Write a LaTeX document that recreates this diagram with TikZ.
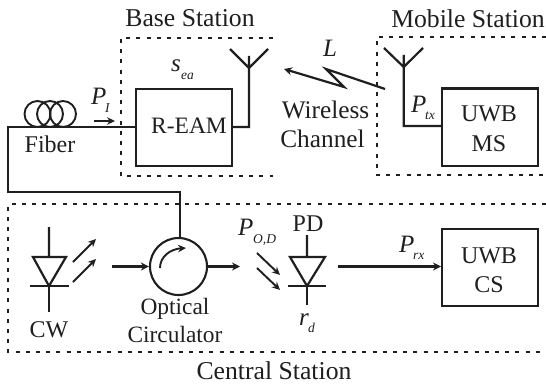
\documentclass[tikz,border=0pt]{standalone}
\usepackage{fontspec}
\setmainfont{Liberation Serif}
\usetikzlibrary{arrows.meta}
\tikzset{
  wire/.style={line width=2.2pt,draw=black!88,line cap=butt,line join=miter},
  thin wire/.style={line width=1.9pt,draw=black!88},
  arr/.style={wire,-{Stealth[length=8pt,width=8pt]}},
  smallarr/.style={thin wire,-{Stealth[length=8pt,width=7.5pt]}},
  dots/.style={line width=2pt,draw=black!88,dash pattern=on 4pt off 6.2pt},
  blockbox/.style={draw=black!88,line width=2.2pt,minimum width=96pt,minimum height=77pt,inner sep=0pt,anchor=north west},
  lab/.style={anchor=base,inner sep=0pt,text=black!88,font=\fontsize{24}{24}\selectfont},
  title/.style={lab,font=\fontsize{25.7}{26}\selectfont},
  widelab/.style={lab,font=\fontsize{25.3}{26}\selectfont},
  varlab/.style={anchor=base west,inner sep=0pt,text=black!88,font=\fontsize{25}{25}\selectfont\itshape},
  sublab/.style={anchor=base west,inner sep=0pt,text=black!88,font=\fontsize{13.5}{14}\selectfont\itshape},
}
\begin{document}
\begin{tikzpicture}[x=1pt,y=-1pt]
\useasboundingbox (0,0) rectangle (546,385);
% dotted station boxes
\draw[dots] (273,38) -- (121,38) -- (121,176) -- (273,176);
\draw[dots] (546,37) -- (377,37) -- (377,175) -- (546,175);
\draw[dots] (546,204) -- (8,204) -- (8,352) -- (546,352);
% blocks
\node[blockbox] (ream) at (135,88) {};
\node[lab,font=\fontsize{23.5}{24}\selectfont] (reamt) at (189,134) {R-EAM};
\node[blockbox] (ms) at (441,87.5) {};
\node[lab] (mst1) at (489,122) {UWB};
\node[lab] (mst2) at (489,151) {MS};
\node[blockbox] (cs) at (441,228) {};
\node[lab] (cst1) at (489,263) {UWB};
\node[lab] (cst2) at (489,292) {CS};
% titles
\node[title] (tbs) at (190,27) {Base Station};
\node[title] (tms) at (468,28) {Mobile Station};
\node[title] (tcs) at (274,379) {Central Station};
\node[lab] (tfib) at (50,153) {Fiber};
\node[widelab] (twl) at (325.5,119) {Wireless};
\node[widelab] (tch) at (322.5,148) {Channel};
\node[lab,font=\fontsize{23.4}{24}\selectfont] (topt) at (175,314) {Optical};
\node[lab,font=\fontsize{23.4}{24}\selectfont] (tcir) at (175,342) {Circulator};
\node[lab] (tcw) at (49,337) {CW};
\node[lab] (tpd) at (308,231) {PD};
% variables
\node[varlab] (vl) at (323,57) {L};
\node[varlab] (vs) at (171,72) {s};
\node[sublab] (vsb) at (181,80) {ea};
\node[varlab] (vpi) at (91,105) {P};
\node[sublab] (vpib) at (105,113) {I};
\node[varlab] (vptx) at (411,113) {P};
\node[sublab] (vptxb) at (425,120) {tx};
\node[varlab] (vpod) at (238,235) {P};
\node[sublab] (vpodb) at (253,243) {O,D};
\node[varlab] (vprx) at (399,252) {P};
\node[sublab] (vprxb) at (413,259) {rx};
\node[varlab] (vr) at (299,325) {r};
\node[sublab] (vrb) at (308,332) {d};
% fiber path and coil
\coordinate (fibL) at (8,127);
\coordinate (fibB) at (8,192);
\coordinate (circT) at (180,192);
\node[draw=black!88,line width=2.1pt,circle,minimum size=57pt,inner sep=0pt] (circ) at (178.5,266.5) {};
\draw[wire] (ream.west|-fibL) -- (fibL) -- (fibB) -- (circT) -- (180,238);
\foreach \cx/\nm in {37.5/c1,50/c2,63/c3}
  \node[draw=black!88,line width=1.9pt,circle,minimum size=26pt,inner sep=0pt] (\nm) at (\cx,114) {};
% P_I arrow
\coordinate (pia) at (94,121); \coordinate (pib) at (115,121);
\draw[smallarr] (pia) -- (pib);
% BS antenna
\coordinate (bsA) at (249,68);
\coordinate (bsC) at (249,127);
\draw[wire] (ream.east|-bsC) -- (bsC) -- (bsA) (249,56) -- (bsA) (230,49) -- (bsA) -- (268,49);
% MS antenna
\coordinate (msA) at (403.7,67);
\coordinate (msC) at (403.7,126);
\draw[wire] (ms.west|-msC) -- (msC) -- (msA) (403.7,55) -- (msA) (384,48) -- (msA) -- (423,48);
% lightning
\coordinate (la) at (385,89); \coordinate (lb) at (326,69); \coordinate (lc) at (344,87); \coordinate (ld) at (284,69);
\draw[arr] (la) -- (lb) -- (lc) -- (ld);
% CW laser diode
\coordinate (cwT) at (49,227); \coordinate (cwA) at (49,286); \coordinate (cwB) at (49,312);
\draw[wire] (cwT) -- (49,257) (33,257) -- (66,257) -- (cwA) -- cycle;
\draw[wire] (30,286) -- (69,286) (cwA) -- (cwB);
\coordinate (e1a) at (73,262); \coordinate (e1b) at (96,239);
\coordinate (e2a) at (73,282); \coordinate (e2b) at (96,259);
\draw[smallarr] (e1a) -- (e1b);
\draw[smallarr] (e2a) -- (e2b);
% circulator
\coordinate (cwout) at (112,266.5);
\coordinate (circout) at (240,266.5);
\draw[arr] (cwout) -- (circ.west);
\draw[arr] (circ.east) -- (circout);
\coordinate (ia) at (160,268); \coordinate (ib) at (186,248);
\draw[smallarr] (ia) .. controls (160,256) and (171,249) .. (ib);
% PD
\coordinate (pdT) at (307,235); \coordinate (pdA) at (307,286); \coordinate (pdB) at (307,305);
\draw[wire] (pdT) -- (307,257) (290,257) -- (325,257) -- (pdA) -- cycle;
\draw[wire] (288,286) -- (326,286) (pdA) -- (pdB);
\coordinate (p1a) at (257,253); \coordinate (p1b) at (280,275);
\coordinate (p2a) at (257,268); \coordinate (p2b) at (280,290);
\draw[smallarr] (p1a) -- (p1b);
\draw[smallarr] (p2a) -- (p2b);
\coordinate (pdout) at (338,266.5);
\draw[arr] (pdout) -- (cs.west|-pdout);
\end{tikzpicture}
\end{document}
